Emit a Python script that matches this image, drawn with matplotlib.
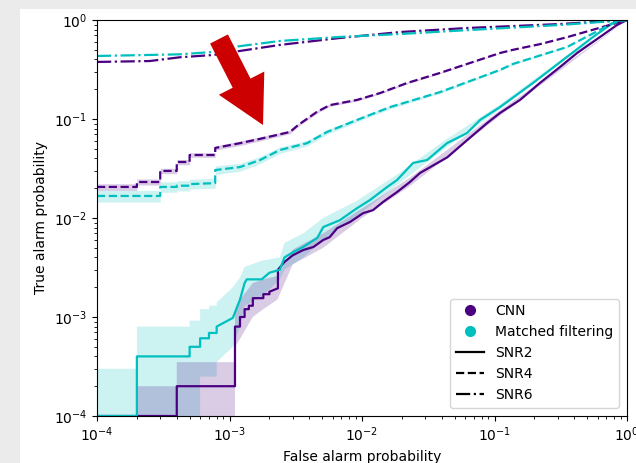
import matplotlib
matplotlib.use('Agg')
import matplotlib.pyplot as plt
from matplotlib.patches import Rectangle, FancyArrow
from matplotlib.lines import Line2D
from matplotlib.transforms import IdentityTransform

cnn_color = '#4b0082'
mf_color = '#00bfbf'

# SNR2 - CNN
fa_cnn_2 = [1e-4, 4e-4, 4e-4, 1.1e-3, 1.1e-3, 1.2e-3, 1.2e-3, 1.3e-3, 1.3e-3, 1.4e-3, 1.4e-3,
            1.5e-3, 1.5e-3, 1.8e-3, 1.8e-3, 2.0e-3, 2.0e-3, 2.32e-3, 2.32e-3, 2.6e-3, 3.0e-3,
            3.6e-3, 4.3e-3, 5.1e-3, 5.7e-3, 6.5e-3, 8.1e-3, 1.02e-2, 1.21e-2, 1.44e-2, 1.84e-2,
            2.3e-2, 2.74e-2, 4.4e-2, 6.2e-2, 8.8e-2, 0.11, 0.156, 0.22, 0.312, 0.42, 0.625, 0.84, 1.0]
ta_cnn_2 = [1e-4, 1e-4, 2e-4, 2e-4, 8e-4, 8e-4, 1.0e-3, 1.0e-3, 1.2e-3, 1.2e-3, 1.3e-3,
            1.3e-3, 1.55e-3, 1.55e-3, 1.7e-3, 1.7e-3, 1.8e-3, 1.95e-3, 3.0e-3, 3.6e-3, 4.2e-3,
            4.75e-3, 5.1e-3, 6.0e-3, 6.4e-3, 7.9e-3, 9.1e-3, 1.12e-2, 1.2e-2, 1.45e-2, 1.83e-2,
            2.31e-2, 2.85e-2, 4.1e-2, 6.1e-2, 9.1e-2, 0.115, 0.156, 0.231, 0.335, 0.464, 0.673, 0.89, 1.0]
fa_band_cnn_2 = [2e-4, 4e-4, 4e-4, 1.1e-3, 1.1e-3, 1.2e-3, 1.5e-3, 1.8e-3, 2.3e-3, 3.0e-3, 5.1e-3,
                 1.0e-2, 2.3e-2, 0.11, 0.33, 1.0]
lo_cnn_2 = [1e-5, 1e-5, 1e-5, 1e-5, 5e-4, 6e-4, 1.0e-3, 1.2e-3, 1.5e-3, 3.4e-3, 5.0e-3,
            1.0e-2, 2.1e-2, 0.108, 0.325, 1.0]
hi_cnn_2 = [2e-4, 2e-4, 3.5e-4, 3.5e-4, 1.2e-3, 1.5e-3, 2.2e-3, 2.4e-3, 2.6e-3, 4.8e-3, 7.0e-3,
            1.25e-2, 2.55e-2, 0.122, 0.345, 1.0]

# SNR2 - matched filtering
fa_mf_2 = [1e-4, 2e-4, 2e-4, 5e-4, 5e-4, 6e-4, 6e-4, 7e-4, 7e-4, 8e-4, 8e-4, 1.06e-3, 1.2e-3,
           1.3e-3, 1.35e-3, 1.75e-3, 2.0e-3, 2.4e-3, 2.6e-3, 3.0e-3, 3.6e-3, 4.6e-3, 5.1e-3,
           6.8e-3, 9.2e-3, 1.15e-2, 1.55e-2, 1.84e-2, 2.43e-2, 3.1e-2, 4.38e-2, 6.2e-2, 7.8e-2,
           0.11, 0.195, 0.352, 0.553, 0.78, 1.0]
ta_mf_2 = [1e-4, 1e-4, 4e-4, 4e-4, 5e-4, 5e-4, 6.1e-4, 6.1e-4, 6.9e-4, 6.9e-4, 8e-4, 9.8e-4, 1.5e-3,
           2.2e-3, 2.4e-3, 2.4e-3, 2.8e-3, 3.0e-3, 4.0e-3, 4.5e-3, 5.1e-3, 6.3e-3, 8.1e-3,
           9.5e-3, 1.26e-2, 1.52e-2, 2.06e-2, 2.42e-2, 3.6e-2, 3.85e-2, 5.7e-2, 7.2e-2, 9.8e-2,
           0.132, 0.231, 0.423, 0.673, 0.93, 1.0]
fa_band_mf_2 = [1e-4, 2e-4, 2e-4, 5e-4, 5e-4, 6e-4, 6e-4, 7e-4, 7e-4, 8e-4, 8e-4, 1.06e-3, 1.2e-3,
                1.3e-3, 1.75e-3, 2.4e-3, 2.6e-3, 3.6e-3, 5.1e-3, 9.2e-3, 1.84e-2, 4.38e-2, 0.11, 0.352, 1.0]
lo_mf_2 = [1e-5, 1e-5, 1e-5, 1e-5, 1e-5, 1e-5, 2.5e-4, 2.5e-4, 2.5e-4, 2.5e-4, 3.5e-4, 5e-4, 8e-4,
           1.3e-3, 1.6e-3, 2.4e-3, 3.0e-3, 4.0e-3, 6.0e-3, 1.05e-2, 2.15e-2, 5.2e-2, 0.125, 0.41, 1.0]
hi_mf_2 = [3e-4, 3e-4, 8e-4, 8e-4, 9.2e-4, 9.2e-4, 1.2e-3, 1.2e-3, 1.3e-3, 1.3e-3, 1.4e-3, 2.0e-3, 2.5e-3,
           3.2e-3, 3.7e-3, 4.0e-3, 5.6e-3, 7.0e-3, 1.0e-2, 1.5e-2, 2.75e-2, 6.3e-2, 0.14, 0.44, 1.0]

# SNR4
fa_cnn_4 = [1e-4, 2e-4, 2e-4, 3e-4, 3e-4, 4e-4, 4e-4, 5e-4, 5e-4, 7.8e-4, 7.8e-4, 1.2e-3, 1.7e-3,
            2.86e-3, 3.3e-3, 4.57e-3, 5.7e-3, 9.2e-3, 1.37e-2, 2.19e-2, 3.88e-2, 0.11, 0.138,
            0.22, 0.352, 0.885, 1.0]
ta_cnn_4 = [2.06e-2, 2.06e-2, 2.31e-2, 2.31e-2, 2.99e-2, 2.99e-2, 3.68e-2, 3.68e-2, 4.33e-2, 4.33e-2,
            5.1e-2, 5.7e-2, 6.3e-2, 7.4e-2, 8.7e-2, 0.118, 0.138, 0.156, 0.183, 0.231, 0.292,
            0.464, 0.5, 0.57, 0.67, 0.955, 1.0]
lo_cnn_4 = [1.9e-2, 1.9e-2, 2.15e-2, 2.15e-2, 2.8e-2, 2.8e-2, 3.45e-2, 3.45e-2, 4.1e-2, 4.1e-2,
            4.85e-2, 5.4e-2, 6.0e-2, 7.1e-2, 8.4e-2, 0.114, 0.134, 0.152, 0.179, 0.227, 0.288,
            0.46, 0.497, 0.567, 0.668, 0.954, 1.0]
hi_cnn_4 = [2.22e-2, 2.22e-2, 2.48e-2, 2.48e-2, 3.18e-2, 3.18e-2, 3.9e-2, 3.9e-2, 4.56e-2, 4.56e-2,
            5.35e-2, 6.0e-2, 6.6e-2, 7.7e-2, 9.0e-2, 0.122, 0.142, 0.16, 0.187, 0.235, 0.296,
            0.468, 0.503, 0.573, 0.672, 0.956, 1.0]

fa_mf_4 = [1e-4, 3e-4, 3e-4, 4e-4, 4e-4, 5e-4, 5e-4, 7.8e-4, 7.8e-4, 1.2e-3, 1.7e-3, 2.4e-3,
           3.85e-3, 5.45e-3, 9.2e-3, 1.63e-2, 3.88e-2, 0.11, 0.138, 0.352, 0.78, 1.0]
ta_mf_4 = [1.67e-2, 1.67e-2, 2.06e-2, 2.06e-2, 2.12e-2, 2.12e-2, 2.2e-2, 2.25e-2, 3.05e-2, 3.27e-2,
           3.85e-2, 4.86e-2, 5.7e-2, 7.4e-2, 9.8e-2, 0.132, 0.187, 0.313, 0.36, 0.533, 0.93, 1.0]
lo_mf_4 = [1.45e-2, 1.45e-2, 1.82e-2, 1.82e-2, 1.88e-2, 1.88e-2, 1.96e-2, 2.0e-2, 2.75e-2, 2.97e-2,
           3.55e-2, 4.5e-2, 5.35e-2, 7.0e-2, 9.35e-2, 0.127, 0.181, 0.306, 0.352, 0.527, 0.927, 1.0]
hi_mf_4 = [1.9e-2, 1.9e-2, 2.32e-2, 2.32e-2, 2.38e-2, 2.38e-2, 2.46e-2, 2.52e-2, 3.35e-2, 3.58e-2,
           4.17e-2, 5.22e-2, 6.08e-2, 7.8e-2, 0.1025, 0.137, 0.193, 0.32, 0.368, 0.539, 0.933, 1.0]

# SNR6
fa_cnn_6 = [1e-4, 2.5e-4, 4.2e-4, 7.5e-4, 1.06e-3, 2.4e-3, 6.8e-3, 1.94e-2, 6.2e-2, 0.31, 1.0]
ta_cnn_6 = [0.377, 0.385, 0.42, 0.443, 0.475, 0.56, 0.658, 0.756, 0.83, 0.91, 1.0]
fa_mf_6 = [1e-4, 4.2e-4, 7.5e-4, 1.06e-3, 2.4e-3, 6.8e-3, 1.94e-2, 6.2e-2, 0.31, 1.0]
ta_mf_6 = [0.433, 0.45, 0.475, 0.533, 0.614, 0.674, 0.722, 0.79, 0.89, 1.0]

fig = plt.figure(figsize=(6.36, 4.63), dpi=100, facecolor='#ebebeb')
fig.add_artist(Rectangle((20 / 636, 0), 616 / 636, 454 / 463, transform=fig.transFigure,
                         facecolor='white', edgecolor='none', zorder=-1))
ax = fig.add_axes([97 / 636, 1 - 416 / 463, 530 / 636, 396 / 463])

# confidence bands
ax.fill_between(fa_band_mf_2, lo_mf_2, hi_mf_2, color=mf_color, alpha=0.2, lw=0)
ax.fill_between(fa_band_cnn_2, lo_cnn_2, hi_cnn_2, color=cnn_color, alpha=0.2, lw=0)
ax.fill_between(fa_mf_4, lo_mf_4, hi_mf_4, color=mf_color, alpha=0.2, lw=0)
ax.fill_between(fa_cnn_4, lo_cnn_4, hi_cnn_4, color=cnn_color, alpha=0.2, lw=0)

ax.plot(fa_cnn_2, ta_cnn_2, color=cnn_color, lw=1.6, ls='-')
ax.plot(fa_mf_2, ta_mf_2, color=mf_color, lw=1.6, ls='-')
ax.plot(fa_cnn_4, ta_cnn_4, color=cnn_color, lw=1.6, ls='--')
ax.plot(fa_mf_4, ta_mf_4, color=mf_color, lw=1.6, ls='--')
ax.plot(fa_cnn_6, ta_cnn_6, color=cnn_color, lw=1.6, ls='-.')
ax.plot(fa_mf_6, ta_mf_6, color=mf_color, lw=1.6, ls='-.')

ax.set_xscale('log')
ax.set_yscale('log')
ax.set_xlim(1e-4, 1)
ax.set_ylim(1e-4, 1)
ax.set_xlabel('False alarm probability')
ax.set_ylabel('True alarm probability')

handles = [
    Line2D([], [], color=cnn_color, marker='o', ls='none', markersize=7, label='CNN'),
    Line2D([], [], color=mf_color, marker='o', ls='none', markersize=7, label='Matched filtering'),
    Line2D([], [], color='black', ls='-', lw=1.6, label='SNR2'),
    Line2D([], [], color='black', ls='--', lw=1.6, label='SNR4'),
    Line2D([], [], color='black', ls='-.', lw=1.6, label='SNR6'),
]
ax.legend(handles=handles, loc='lower right', borderaxespad=0.6)

# red arrow pointing at the SNR4 curves
fig.add_artist(FancyArrow(219, 424, 44, -86, width=20, head_width=51, head_length=47,
                          length_includes_head=True, color='#cc0000', lw=0,
                          transform=IdentityTransform(), zorder=5))

fig.savefig('out.png', dpi=100, facecolor=fig.get_facecolor())
